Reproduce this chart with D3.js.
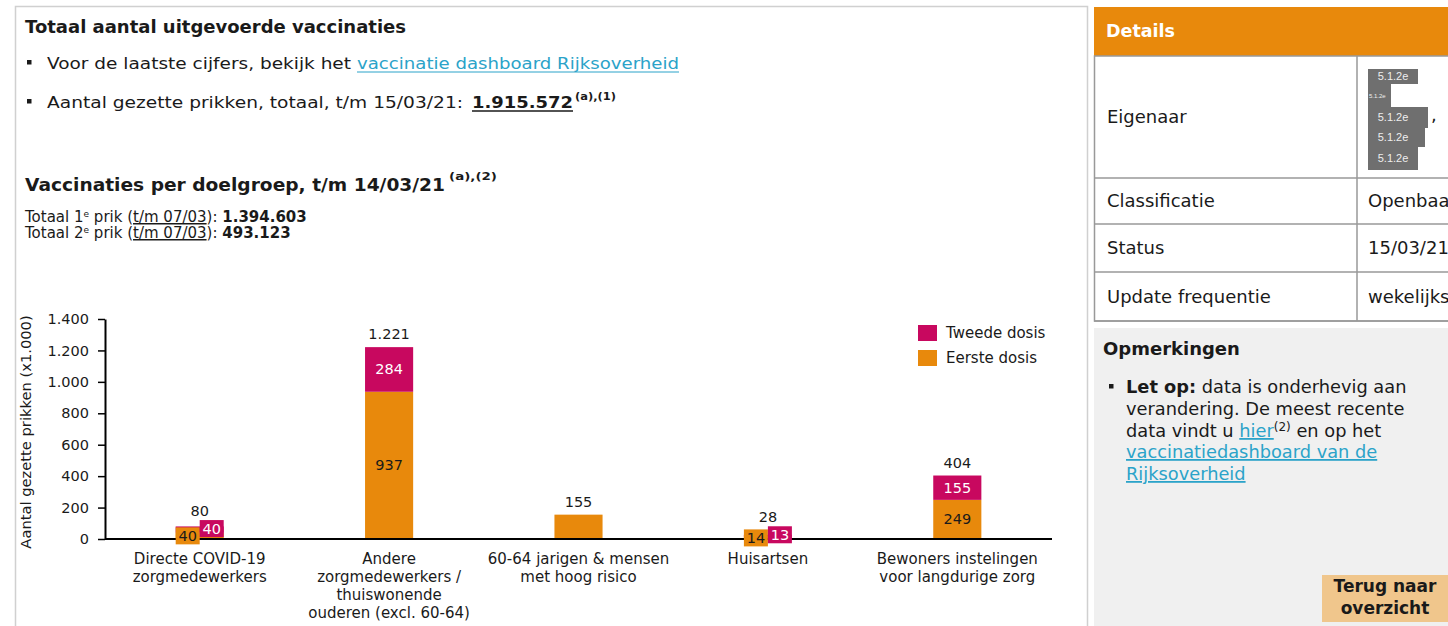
<!DOCTYPE html>
<html><head><meta charset="utf-8">
<script src="https://cdn.jsdelivr.net/npm/d3@7"></script>
<style>
html,body{margin:0;padding:0;background:#fff;overflow:hidden;}
svg{display:block;font-family:"DejaVu Sans",Verdana,sans-serif;}
</style></head>
<body>
<svg id="c" width="1448" height="626"></svg>
<script>
// ---- data ----
const categories = [
  ["Directe COVID-19","zorgmedewerkers"],
  ["Andere","zorgmedewerkers /","thuiswonende","ouderen (excl. 60-64)"],
  ["60-64 jarigen & mensen","met hoog risico"],
  ["Huisartsen"],
  ["Bewoners instelingen","voor langdurige zorg"]
];
const eersteDosis = [40, 937, 155, 14, 249];
const tweedeDosis = [40, 284, 0, 13, 155];
const totals = [80, 1221, 155, 28, 404];
const yTicks = [0, 200, 400, 600, 800, 1000, 1200, 1400];
const seriesNames = ["Eerste dosis", "Tweede dosis"];
const legendOrder = ["Tweede dosis", "Eerste dosis"];

const ORANGE = "#e8890c", MAGENTA = "#c8085f", LINK = "#2ba3c9", TXT = "#1a1a1a";
const nl = d3.formatLocale({decimal: ",", thousands: ".", grouping: [3], currency: ["€", ""]});
const fmt = nl.format(",d");

const svg = d3.select("#c");

// ---- page frame ----
svg.append("path").attr("d", "M15.5,626 V6.5 H1087.5 V626").attr("fill", "none").attr("stroke", "#d0d0d0").attr("stroke-width", 1.5);

// header texts
svg.append("text").attr("x", 25).attr("y", 33).attr("font-size", 18).attr("font-weight", "bold").attr("fill", TXT)
  .attr("textLength", 381).attr("lengthAdjust", "spacingAndGlyphs").text("Totaal aantal uitgevoerde vaccinaties");

function bullet(x, y) {
  svg.append("rect").attr("x", x).attr("y", y - 9).attr("width", 4.5).attr("height", 4.5).attr("fill", TXT);
}
bullet(27, 69);
svg.append("text").attr("x", 47).attr("y", 69).attr("font-size", 15).attr("fill", TXT)
  .attr("textLength", 304).attr("lengthAdjust", "spacingAndGlyphs").text("Voor de laatste cijfers, bekijk het");
svg.append("text").attr("x", 357).attr("y", 69).attr("font-size", 15).attr("fill", LINK)
  .attr("textLength", 322).attr("lengthAdjust", "spacingAndGlyphs").text("vaccinatie dashboard Rijksoverheid");
svg.append("line").attr("x1", 357).attr("x2", 679).attr("y1", 72).attr("y2", 72).attr("stroke", LINK).attr("stroke-width", 1);

bullet(27, 108);
svg.append("text").attr("x", 47).attr("y", 108).attr("font-size", 15).attr("fill", TXT)
  .attr("textLength", 416).attr("lengthAdjust", "spacingAndGlyphs").text("Aantal gezette prikken, totaal, t/m 15/03/21:");
svg.append("text").attr("x", 472).attr("y", 108).attr("font-size", 16).attr("font-weight", "bold").attr("fill", TXT)
  .attr("textLength", 101).attr("lengthAdjust", "spacingAndGlyphs").text("1.915.572");
svg.append("line").attr("x1", 472).attr("x2", 573).attr("y1", 111).attr("y2", 111).attr("stroke", TXT).attr("stroke-width", 1.5);
svg.append("text").attr("x", 575).attr("y", 100).attr("font-size", 11).attr("font-weight", "bold").attr("fill", TXT)
  .attr("textLength", 41).attr("lengthAdjust", "spacingAndGlyphs").text("(a),(1)");

svg.append("text").attr("x", 25).attr("y", 191).attr("font-size", 18).attr("font-weight", "bold").attr("fill", TXT)
  .attr("textLength", 420).attr("lengthAdjust", "spacingAndGlyphs").text("Vaccinaties per doelgroep, t/m 14/03/21");
svg.append("text").attr("x", 449).attr("y", 180).attr("font-size", 11).attr("font-weight", "bold").attr("fill", TXT)
  .attr("textLength", 48).attr("lengthAdjust", "spacingAndGlyphs").text("(a),(2)");

function subLine(y, n, val) {
  const t = svg.append("text").attr("x", 25).attr("y", y).attr("font-size", 15).attr("fill", TXT);
  t.append("tspan").text("Totaal " + n);
  t.append("tspan").attr("font-size", 9).attr("dy", -5).text("e");
  t.append("tspan").attr("dy", 5).text(" prik (");
  t.append("tspan").attr("text-decoration", "underline").text("t/m 07/03");
  t.append("tspan").text("): ");
  t.append("tspan").attr("font-weight", "bold").text(val);
}
subLine(222, 1, "1.394.603");
subLine(238, 2, "493.123");

// ---- chart ----
const x = d3.scaleBand().domain(d3.range(categories.length)).range([105, 1052]).padding(0);
const y = d3.scaleLinear().domain([0, 1400]).range([539, 319]);
const barW = x.bandwidth() * 0.254;

const rows = categories.map((c, i) => ({i, "Eerste dosis": eersteDosis[i], "Tweede dosis": tweedeDosis[i]}));
const stacked = d3.stack().keys(seriesNames)(rows);
const color = d3.scaleOrdinal().domain(seriesNames).range([ORANGE, MAGENTA]);

// y axis
const yAxis = svg.append("g").attr("transform", "translate(105,0)")
  .call(d3.axisLeft(y).tickValues(yTicks).tickFormat(fmt).tickSize(7).tickSizeOuter(0).tickPadding(9));
yAxis.select(".domain").attr("stroke", "#000").attr("stroke-width", 2);
yAxis.selectAll(".tick line").attr("stroke", "#000").attr("stroke-width", 1.5);
yAxis.selectAll(".tick text").attr("font-size", 14.5).attr("fill", TXT).attr("font-family", "DejaVu Sans");

svg.append("text").attr("transform", "translate(31,432) rotate(-90)").attr("text-anchor", "middle")
  .attr("font-size", 14.7).attr("fill", TXT).text("Aantal gezette prikken (x1.000)");

// bars
const layers = svg.append("g").selectAll("g").data(stacked).join("g").attr("fill", d => color(d.key));
layers.selectAll("rect").data(d => d).join("rect")
  .attr("x", (d, i) => x(i) + x.bandwidth() / 2 - barW / 2)
  .attr("width", barW)
  .attr("y", d => y(d[1]))
  .attr("height", d => y(d[0]) - y(d[1]));

// x axis baseline
svg.append("line").attr("x1", 105).attr("x2", 1052).attr("y1", y(0)).attr("y2", y(0)).attr("stroke", "#000").attr("stroke-width", 2);

// segment labels
const boxW = 24, boxH = 17;
const labelTop = [];
stacked.forEach((layer, li) => {
  layer.forEach((d, i) => {
    const both = eersteDosis[i] > 0 && tweedeDosis[i] > 0;
    if (!both) return;
    const v = d[1] - d[0];
    const cx = x(i) + x.bandwidth() / 2;
    const h = y(d[0]) - y(d[1]);
    const mid = (y(d[0]) + y(d[1])) / 2;
    const txtCol = layer.key === "Tweede dosis" ? "#fff" : TXT;
    if (h >= 20) {
      svg.append("text").attr("x", cx).attr("y", mid + 5).attr("text-anchor", "middle")
        .attr("font-size", 14.5).attr("fill", txtCol).text(fmt(v));
    } else {
      const bx = layer.key === "Eerste dosis" ? cx - boxW : cx;
      const by = mid - boxH / 2 + (layer.key === "Eerste dosis" ? 0 : -1);
      svg.append("rect").attr("x", bx).attr("y", by).attr("width", boxW).attr("height", boxH).attr("fill", color(layer.key));
      svg.append("text").attr("x", bx + boxW / 2).attr("y", by + boxH / 2 + 5).attr("text-anchor", "middle")
        .attr("font-size", 14.5).attr("fill", txtCol).text(fmt(v));
      labelTop[i] = Math.min(labelTop[i] ?? 1e9, by);
    }
  });
});

// total labels
totals.forEach((t, i) => {
  const top = y(eersteDosis[i] + tweedeDosis[i]);
  const yy = labelTop[i] !== undefined ? labelTop[i] - 4 : top - 8;
  svg.append("text").attr("x", x(i) + x.bandwidth() / 2).attr("y", yy).attr("text-anchor", "middle")
    .attr("font-size", 14.5).attr("fill", TXT).text(fmt(t));
});

// category labels
categories.forEach((lines, i) => {
  const t = svg.append("text").attr("text-anchor", "middle").attr("font-size", 15).attr("fill", TXT);
  lines.forEach((l, k) => t.append("tspan").attr("x", x(i) + x.bandwidth() / 2).attr("y", 564 + k * 18).text(l));
});

// legend
const lg = svg.append("g").selectAll("g").data(legendOrder).join("g")
  .attr("transform", (d, k) => `translate(918,${325 + k * 25})`);
lg.append("rect").attr("width", 19).attr("height", 16).attr("fill", d => color(d));
lg.append("text").attr("x", 28).attr("y", 13).attr("font-size", 15).attr("fill", TXT).text(d => d);

// ---- right panel ----
svg.append("rect").attr("x", 1094).attr("y", 7).attr("width", 360).attr("height", 49).attr("fill", "#e8890c");
svg.append("text").attr("x", 1106).attr("y", 37).attr("font-size", 17.5).attr("font-weight", "bold").attr("fill", "#fff").text("Details");

const tblRows = [["Eigenaar", 56, 178, ""], ["Classificatie", 178, 224, "Openbaar"], ["Status", 224, 272, "15/03/21"], ["Update frequentie", 272, 321, "wekelijks"]];
const tg = svg.append("g");
tg.append("rect").attr("x", 1094.5).attr("y", 56).attr("width", 400).attr("height", 265).attr("fill", "#fff").attr("stroke", "#999").attr("stroke-width", 1.5);
tblRows.forEach(r => {
  tg.append("line").attr("x1", 1094).attr("x2", 1448).attr("y1", r[2]).attr("y2", r[2]).attr("stroke", "#999").attr("stroke-width", 1.5);
  tg.append("text").attr("x", 1107).attr("y", (r[1] + r[2]) / 2 + 6).attr("font-size", 18).attr("fill", TXT).text(r[0]);
  if (r[3]) tg.append("text").attr("x", 1368).attr("y", (r[1] + r[2]) / 2 + 6).attr("font-size", 18).attr("fill", TXT).text(r[3]);
});
tg.append("line").attr("x1", 1357).attr("x2", 1357).attr("y1", 56).attr("y2", 321).attr("stroke", "#999").attr("stroke-width", 1.5);

// redaction blocks
const red = [[1368, 69, 50, 15, 11], [1368, 84, 23, 23, 6], [1368, 107, 60, 21, 11], [1368, 128, 57, 19, 11], [1368, 147, 50, 23, 11]];
red.forEach(r => {
  tg.append("rect").attr("x", r[0]).attr("y", r[1]).attr("width", r[2]).attr("height", r[3]).attr("fill", "#6f6f6f");
});
red.forEach((r, k) => {
  tg.append("text").attr("x", k === 1 ? r[0] + 1 : r[0] + 25).attr("y", r[1] + r[3] / 2 + r[4] * 0.35)
    .attr("text-anchor", k === 1 ? "start" : "middle").attr("font-size", r[4]).attr("font-family", "Liberation Sans, Arial")
    .attr("fill", "#eee").text("5.1.2e");
});
tg.append("text").attr("x", 1431).attr("y", 121).attr("font-size", 18).attr("fill", TXT).text(",");

// remarks panel
svg.append("rect").attr("x", 1094).attr("y", 328).attr("width", 360).attr("height", 300).attr("fill", "#f0f0f0");
svg.append("text").attr("x", 1103).attr("y", 355).attr("font-size", 18).attr("font-weight", "bold").attr("fill", TXT).text("Opmerkingen");
svg.append("rect").attr("x", 1109).attr("y", 384).attr("width", 4.5).attr("height", 4.5).attr("fill", TXT);
const rx = 1126;
const FS = 17.8;
let t1 = svg.append("text").attr("x", rx).attr("y", 393).attr("font-size", FS).attr("fill", TXT);
t1.append("tspan").attr("font-weight", "bold").text("Let op:");
t1.append("tspan").text(" data is onderhevig aan");
svg.append("text").attr("x", rx).attr("y", 415).attr("font-size", FS).attr("fill", TXT).text("verandering. De meest recente");
let t3 = svg.append("text").attr("x", rx).attr("y", 437).attr("font-size", FS).attr("fill", TXT);
t3.append("tspan").text("data vindt u ");
t3.append("tspan").attr("fill", LINK).attr("text-decoration", "underline").text("hier");
t3.append("tspan").attr("font-size", 12).attr("dy", -6).text("(2)");
t3.append("tspan").attr("dy", 6).text(" en op het");
svg.append("text").attr("x", rx).attr("y", 458).attr("font-size", FS).attr("fill", LINK).attr("text-decoration", "underline").text("vaccinatiedashboard van de ");
svg.append("text").attr("x", rx).attr("y", 480).attr("font-size", FS).attr("fill", LINK).attr("text-decoration", "underline").text("Rijksoverheid");

svg.append("rect").attr("x", 1322).attr("y", 575).attr("width", 130).attr("height", 47).attr("fill", "#f0c68c");
svg.append("text").attr("x", 1385).attr("y", 592).attr("text-anchor", "middle").attr("font-size", 17).attr("font-weight", "bold").attr("fill", TXT).text("Terug naar");
svg.append("text").attr("x", 1385).attr("y", 614).attr("text-anchor", "middle").attr("font-size", 17).attr("font-weight", "bold").attr("fill", TXT).text("overzicht");
</script>
</body></html>
